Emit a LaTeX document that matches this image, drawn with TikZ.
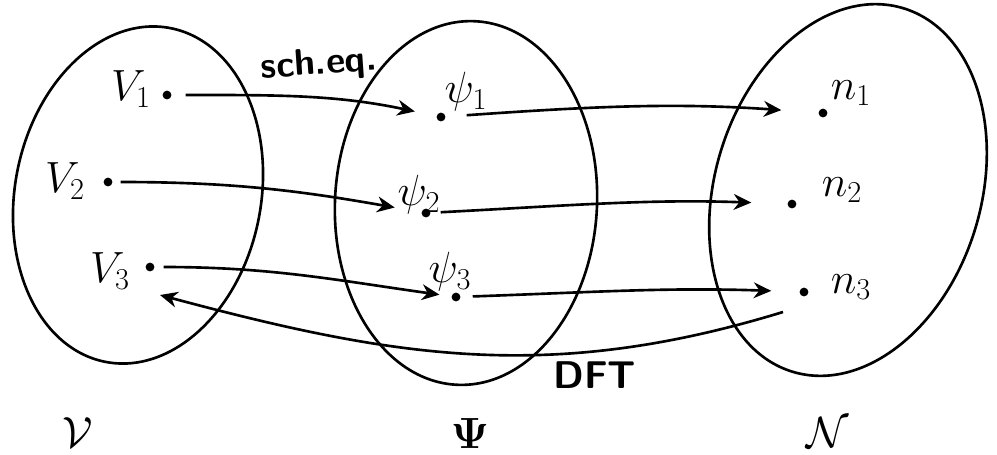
\documentclass[tikz,border=0pt]{standalone}
\usepackage{amsmath,amssymb}
\usepackage{tikz}
\usetikzlibrary{arrows.meta,positioning,calc}
\tikzset{
  blobline/.style={line width=1.5pt,draw=black},
  ptdot/.style={circle,fill=black,inner sep=0pt,minimum size=5pt},
  handlabel/.style={font=\fontsize{23}{26}\selectfont,inner sep=1pt},
  maparrow/.style={-{Stealth[length=10pt,width=9pt]},line width=1.5pt,draw=black},
  setlabel/.style={font=\fontsize{28}{30}\selectfont}
}

\begin{document}
\begin{tikzpicture}[x=1cm,y=1cm]
\path[use as bounding box] (0,0) rectangle (19.94,-9.08);

% the three sets
\draw[blobline,rotate around={-11:(2.76,-3.90)}] (2.76,-3.90) ellipse (2.46 and 3.40);
\draw[blobline,rotate around={-3:(9.32,-4.06)}] (9.32,-4.06) ellipse (2.62 and 3.64);
\draw[blobline,rotate around={-17:(16.96,-3.80)}] (16.96,-3.80) ellipse (2.66 and 3.80);

\node[ptdot] (v1) at (3.34,-1.90) {};
\node[ptdot] (v2) at (2.16,-3.64) {};
\node[ptdot] (v3) at (3.00,-5.34) {};
\node[handlabel] (v1l) at (2.62,-1.78) {$V_1$};
\node[handlabel] (v2l) at (1.30,-3.62) {$V_2$};
\node[handlabel] (v3l) at (2.20,-5.42) {$V_3$};

\node[ptdot] (psi1) at (8.82,-2.34) {};
\node[ptdot] (psi2) at (8.52,-4.26) {};
\node[ptdot] (psi3) at (9.12,-5.94) {};
\node[handlabel] (psi1l) at (9.32,-1.84) {$\psi_1$};
\node[handlabel] (psi2l) at (8.38,-3.90) {$\psi_2$};
\node[handlabel] (psi3l) at (9.00,-5.44) {$\psi_3$};

\node[ptdot] (n1) at (16.46,-2.26) {};
\node[ptdot] (n2) at (15.84,-4.08) {};
\node[ptdot] (n3) at (16.08,-5.84) {};
\node[handlabel] (n1l) at (17.02,-1.86) {$n_1$};
\node[handlabel] (n2l) at (16.84,-3.80) {$n_2$};
\node[handlabel] (n3l) at (17.02,-5.74) {$n_3$};

% Schroedinger equation: V -> psi
\draw[maparrow,shorten <=0.28cm,shorten >=0.44cm] (v1) to[out=0,in=168] (psi1);
\draw[maparrow,shorten <=0.16cm,shorten >=0.54cm] (v2) to[out=0,in=170] (psi2);
\draw[maparrow,shorten <=0.18cm,shorten >=0.24cm] (v3) to[out=0,in=172] (psi3);
\node[font=\sffamily\bfseries\fontsize{21}{23}\selectfont,rotate=4] (scheq) at (6.38,-1.30) {sch.eq.};

% psi -> n
\draw[maparrow,shorten <=0.42cm,shorten >=0.74cm] (psi1) to[out=4,in=176] (n1);
\draw[maparrow,shorten <=0.20cm,shorten >=0.72cm] (psi2) to[out=3,in=178] (n2);
\draw[maparrow,shorten <=0.24cm,shorten >=0.56cm] (psi3) to[out=2,in=178] (n3);

% DFT: n -> V, ends just below the dots
\coordinate (n3out) at ($(n3)+(-0.42,-0.40)$);
\coordinate (v3in) at ($(v3)+(0.20,-0.56)$);
\draw[maparrow] (n3out) to[out=197,in=-15] (v3in);
\node[font=\sffamily\bfseries\fontsize{22}{24}\selectfont] (dft) at (11.90,-7.50) {DFT};

\node[setlabel] (setV) at (1.56,-8.66) {$\mathcal{V}$};
\node[setlabel] (setPsi) at (9.40,-8.66) {$\boldsymbol{\Psi}$};
\node[setlabel] (setN) at (16.56,-8.66) {$\mathcal{N}$};
\end{tikzpicture}
\end{document}
